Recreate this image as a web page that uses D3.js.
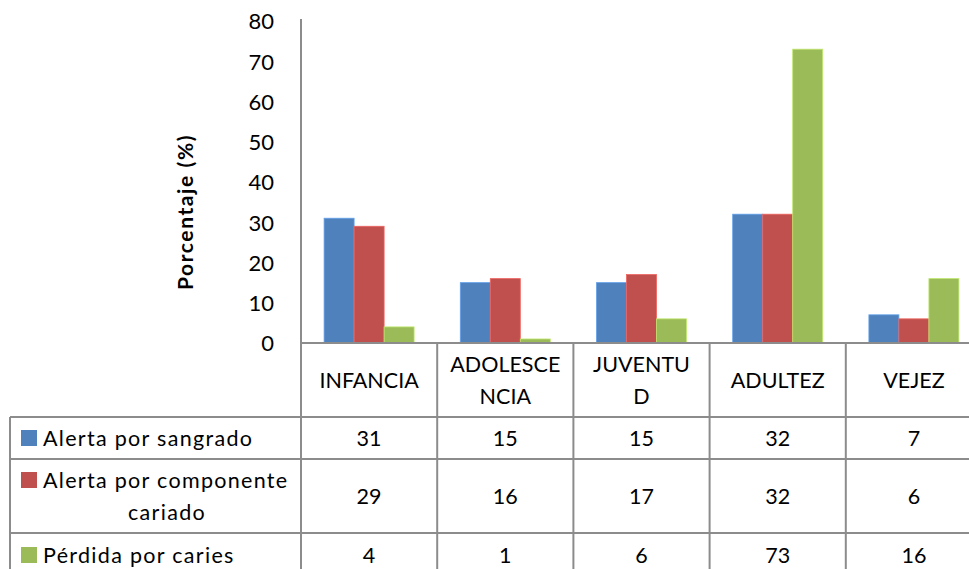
<!DOCTYPE html>
<html>
<head>
<meta charset="utf-8">
<script src="https://cdn.jsdelivr.net/npm/d3@7"></script>
<style>
  html, body { margin: 0; padding: 0; background: #fff; }
  svg { display: block; font-family: Lato, "Open Sans", sans-serif; }
</style>
</head>
<body>
<svg id="chart" width="969" height="569"></svg>
<script>
// Age groups and the three indicators (percentages)
const categories = ["INFANCIA", "ADOLESCENCIA", "JUVENTUD", "ADULTEZ", "VEJEZ"];
const categoryLines = [["INFANCIA"], ["ADOLESCE", "NCIA"], ["JUVENTU", "D"], ["ADULTEZ"], ["VEJEZ"]];
const seriesNames = ["Alerta por sangrado", "Alerta por componente cariado", "Pérdida por caries"];
const seriesLabelLines = [["Alerta por sangrado"], ["Alerta por componente", "cariado"], ["Pérdida por caries"]];
const sangrado = [31, 15, 15, 32, 7];
const componente = [29, 16, 17, 32, 6];
const perdida = [4, 1, 6, 73, 16];
const yTicks = [0, 10, 20, 30, 40, 50, 60, 70, 80];
const colors = ["#4F81BD", "#C0504D", "#9BBB59"];
const yTitle = "Porcentaje (%)";

const seriesValues = [sangrado, componente, perdida];

const svg = d3.select("#chart");
const axisColor = "#8c8c8c";

const plotLeft = 301, plotTop = 21, plotBottom = 343;
const colW = 136.2;
const tableLeft = 10, tableRight = 969;
const rowLines = [417, 459, 533];
const rowCenters = [438, 496, 555];
const tableBottom = 569;

const x = d3.scaleBand()
  .domain(categories)
  .range([plotLeft, plotLeft + colW * categories.length])
  .paddingInner(0).paddingOuter(0);

const xInner = d3.scaleBand()
  .domain(d3.range(seriesNames.length))
  .range([0, x.bandwidth()])
  .paddingInner(0)
  .paddingOuter(0.77);

const y = d3.scaleLinear().domain([0, 80]).range([plotBottom, plotTop]);

// Bars
const groups = svg.append("g").selectAll("g")
  .data(categories)
  .join("g")
  .attr("transform", d => `translate(${x(d)},0)`);

groups.selectAll("rect")
  .data((d, i) => seriesValues.map((vals, s) => ({ s, v: vals[i] })))
  .join("rect")
  .attr("x", d => xInner(d.s))
  .attr("width", xInner.bandwidth())
  .attr("y", d => y(d.v))
  .attr("height", d => y(0) - y(d.v))
  .attr("fill", d => colors[d.s])
  .attr("stroke", d => d3.color(colors[d.s]).brighter(0.6))
  .attr("stroke-width", 0.8);

// Y axis
const yAxis = d3.axisLeft(y).tickValues(yTicks).tickSize(0).tickPadding(27);
const yg = svg.append("g").attr("transform", `translate(${plotLeft},0)`).call(yAxis);
yg.select(".domain").remove();
yg.selectAll("text")
  .attr("font-family", "Lato, sans-serif")
  .attr("font-size", 22)
  .attr("fill", "#000")
  .attr("dy", "0.36em");

svg.append("line")
  .attr("x1", plotLeft).attr("x2", plotLeft)
  .attr("y1", plotTop - 2).attr("y2", tableBottom)
  .attr("stroke", axisColor).attr("stroke-width", 2);

// Y title
svg.append("text")
  .attr("transform", `translate(193,212) rotate(-90)`)
  .attr("text-anchor", "middle")
  .attr("font-weight", "bold")
  .attr("font-size", 21)
  .attr("letter-spacing", 1.6)
  .attr("fill", "#000")
  .text(yTitle);

// Data table grid
const grid = svg.append("g").attr("stroke", axisColor).attr("stroke-width", 2);
grid.append("line")
  .attr("x1", plotLeft).attr("x2", tableRight)
  .attr("y1", plotBottom).attr("y2", plotBottom);
rowLines.forEach(yy => {
  grid.append("line")
    .attr("x1", tableLeft).attr("x2", tableRight)
    .attr("y1", yy).attr("y2", yy);
});
grid.append("line")
  .attr("x1", tableLeft).attr("x2", tableLeft)
  .attr("y1", rowLines[0]).attr("y2", tableBottom);
categories.forEach((c, i) => {
  if (i === 0) return;
  grid.append("line")
    .attr("x1", x(c)).attr("x2", x(c))
    .attr("y1", plotBottom).attr("y2", tableBottom);
});

// Category header labels
const lineH = 32;
categoryLines.forEach((lines, i) => {
  const cx = x(categories[i]) + x.bandwidth() / 2;
  const cy = (plotBottom + rowLines[0]) / 2;
  const t = svg.append("text")
    .attr("text-anchor", "middle")
    .attr("font-size", 21.5)
    .attr("fill", "#000");
  lines.forEach((ln, k) => {
    t.append("tspan")
      .attr("x", cx)
      .attr("y", cy + (k - (lines.length - 1) / 2) * lineH)
      .attr("dy", "0.36em")
      .text(ln);
  });
});

// Row legend labels and values
seriesNames.forEach((name, s) => {
  const lines = seriesLabelLines[s];
  const cy = rowCenters[s];
  const firstY = cy - (lines.length - 1) / 2 * lineH;
  svg.append("rect")
    .attr("x", 21).attr("y", firstY - 8)
    .attr("width", 16).attr("height", 16)
    .attr("fill", colors[s]);
  const t = svg.append("text")
    .attr("font-size", 21.5)
    .attr("letter-spacing", 1.3)
    .attr("fill", "#000");
  lines.forEach((ln, k) => {
    t.append("tspan")
      .attr("x", k === 0 ? 43 : 167)
      .attr("text-anchor", k === 0 ? "start" : "middle")
      .attr("y", firstY + k * lineH)
      .attr("dy", "0.36em")
      .text(ln);
  });
  seriesValues[s].forEach((v, i) => {
    svg.append("text")
      .attr("x", x(categories[i]) + x.bandwidth() / 2)
      .attr("y", cy)
      .attr("dy", "0.36em")
      .attr("text-anchor", "middle")
      .attr("font-size", 21.5)
      .attr("fill", "#000")
      .text(v);
  });
});
</script>
</body>
</html>
